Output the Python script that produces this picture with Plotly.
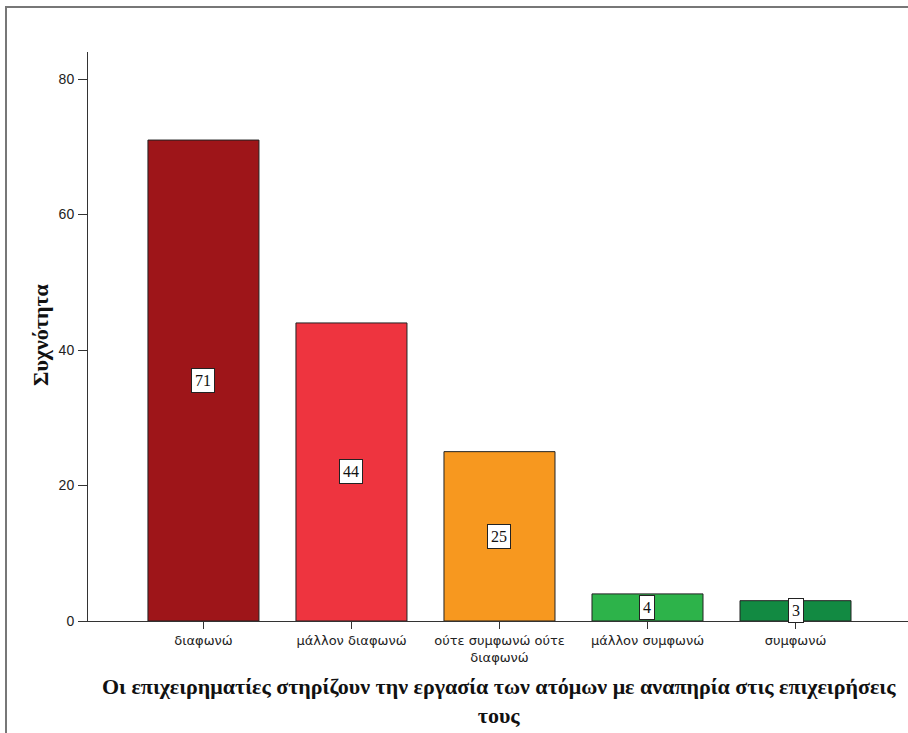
import plotly.graph_objects as go

categories = ['διαφωνώ', 'μάλλον διαφωνώ', 'ούτε συμφωνώ ούτε<br>διαφωνώ',
              'μάλλον συμφωνώ', 'συμφωνώ']
counts = [71, 44, 25, 4, 3]
bar_colors = ['#9E1519', '#EE343F', '#F7981F', '#2DB34A', '#128A42']
y_ticks = [0, 20, 40, 60, 80]

x_title = ('Οι επιχειρηματίες στηρίζουν την εργασία των ατόμων με αναπηρία στις επιχειρήσεις'
           '<br>τους')
y_title = 'Συχνότητα'

W, H = 908, 733
ML, MR, MT, MB = 88, 0, 52, 112
pw, ph = W - ML - MR, H - MT - MB


def px_to_paper(px, py):
    return (px - ML) / pw, (H - MB - py) / ph


fig = go.Figure()
fig.add_trace(go.Bar(x=list(range(len(categories))), y=counts,
                     marker=dict(color=bar_colors, line=dict(color='#222222', width=1)),
                     width=0.75, hoverinfo='y', showlegend=False))

# value boxes in the middle of each bar
for i, v in enumerate(counts):
    fig.add_annotation(x=i, y=v / 2, text=str(v), showarrow=False,
                       font=dict(family='Liberation Serif', size=16, color='#111111'),
                       bgcolor='white', bordercolor='#222222', borderwidth=1, borderpad=3)

# axis titles
fig.add_annotation(x=px_to_paper(499, 0)[0], y=0,
                   xref='paper', yref='paper', yshift=-51, yanchor='top', xanchor='center',
                   text='<b>' + x_title + '</b>', showarrow=False,
                   font=dict(family='Liberation Serif', size=22, color='#111111'))
fig.add_annotation(x=px_to_paper(40, 0)[0], y=px_to_paper(0, 335)[1], xref='paper', yref='paper',
                   xanchor='center', yanchor='middle',
                   text='<b>' + y_title + '</b>', textangle=-90, showarrow=False,
                   font=dict(family='Liberation Serif', size=22, color='#111111'))

# outer frame (top and left visible)
x0, y0 = px_to_paper(6, 7)
x1, y1 = px_to_paper(W + 5, H + 5)
fig.add_shape(type='rect', xref='paper', yref='paper', x0=x0, y0=y1, x1=x1, y1=y0,
              line=dict(color='#777777', width=2))

fig.update_layout(
    width=W, height=H,
    margin=dict(l=ML, r=MR, t=MT, b=MB),
    plot_bgcolor='white', paper_bgcolor='white',
    bargap=0.25,
    xaxis=dict(range=[-0.78, 4.76], tickvals=list(range(len(categories))), ticktext=categories,
               showline=True, linecolor='#333333', linewidth=1, showgrid=False, zeroline=False,
               ticks='outside', ticklen=7, tickcolor='#333333',
               tickfont=dict(family='DejaVu Sans', size=13, color='#222222')),
    yaxis=dict(range=[0, 84], tickvals=y_ticks, showline=True, linecolor='#333333', linewidth=1,
               showgrid=False, zeroline=False, ticks='outside', ticklen=9, tickcolor='#333333',
               ticklabelstandoff=1,
               tickfont=dict(family='Liberation Sans', size=14, color='#222222')),
)

# drop the default page margin so the figure sits at the window origin
fig.write_html('out.html', config={'displayModeBar': False},
               post_script="document.body.style.margin='0';")
